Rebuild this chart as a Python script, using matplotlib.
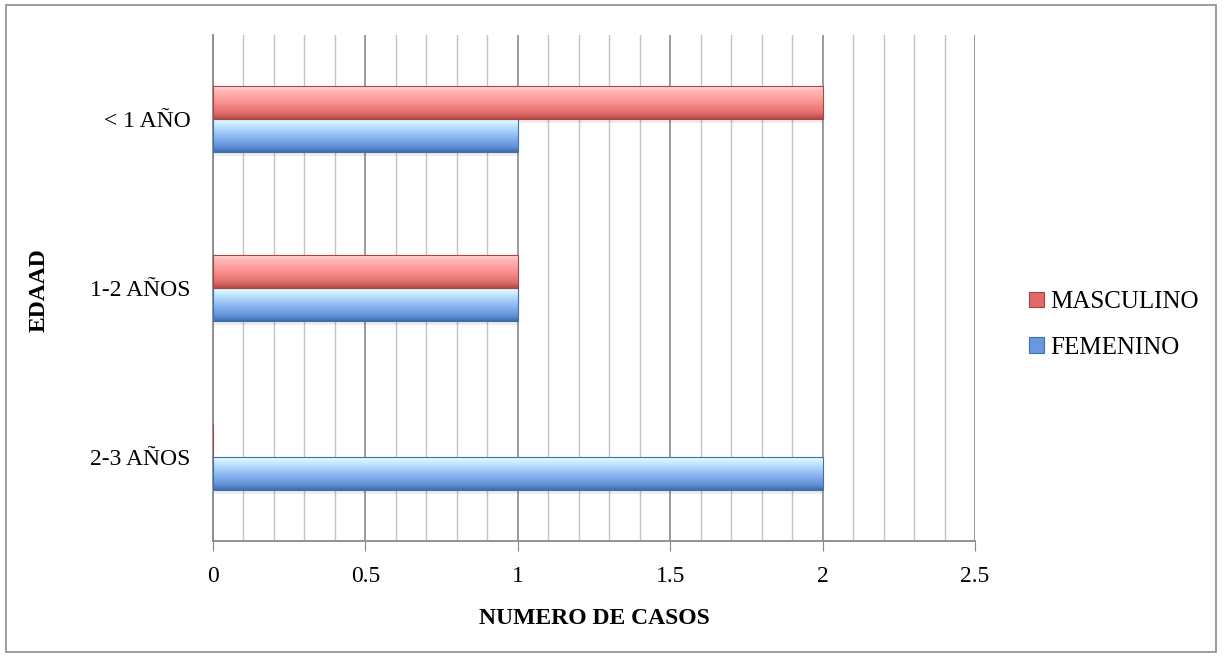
"""Horizontal grouped bars of cases per age group and sex."""

import matplotlib

matplotlib.use("Agg")

import matplotlib.pyplot as plt
import numpy as np
from matplotlib.colors import LinearSegmentedColormap
from matplotlib.patches import Rectangle
from matplotlib.ticker import MultipleLocator

age_groups = ["2-3 AÑOS", "1-2 AÑOS", "< 1 AÑO"]
femenino = [2, 1, 1]
masculino = [0, 1, 2]
x_ticks = [0, 0.5, 1, 1.5, 2, 2.5]
x_tick_labels = ["0", "0.5", "1", "1.5", "2", "2.5"]

SERIF = ["Liberation Serif", "DejaVu Serif"]
plt.rcParams["font.family"] = SERIF

# top-to-bottom shading of each series, light highlight to darker base
red_shade = LinearSegmentedColormap.from_list(
    "red_shade",
    [(0.0, "#ffe4e4"), (0.15, "#ffb8b8"), (0.5, "#fb9292"), (0.85, "#dc6b68"), (1.0, "#b44a47")],
)
blue_shade = LinearSegmentedColormap.from_list(
    "blue_shade",
    [(0.0, "#f2ffff"), (0.15, "#ccf0ff"), (0.5, "#94bef5"), (0.85, "#6190d6"), (1.0, "#406fae")],
)


def shaded_barh(ax, y, widths, height, cmap, edge):
    """Draw bars and fill each one with a vertical gradient."""
    bars = ax.barh(y, widths, height=height, color="none", edgecolor=edge, linewidth=0.8, zorder=3)
    gradient = np.linspace(1, 0, 64).reshape(-1, 1)
    for bar in bars:
        w = bar.get_width()
        if w <= 0:
            continue
        y0 = bar.get_y()
        h = bar.get_height()
        # soft shadow under the bar
        ax.add_patch(
            Rectangle((0, y0 - h * 0.12), w, h * 0.12, facecolor="#000000", alpha=0.07,
                      edgecolor="none", zorder=2)
        )
        img = ax.imshow(
            gradient,
            cmap=cmap,
            vmin=0,
            vmax=1,
            aspect="auto",
            extent=(0, w, y0, y0 + h),
            origin="lower",
            zorder=2.5,
        )
        img.set_clip_path(bar)
    return bars


fig = plt.figure(figsize=(12.22, 6.57), dpi=100)
fig.patches.append(
    Rectangle((0.005, 0.008), 0.99, 0.985, transform=fig.transFigure, fill=False,
              edgecolor="#8c8c8c", linewidth=1.2)
)
ax = fig.add_axes([0.1743, 0.1766, 0.6236, 0.770])

y = np.arange(len(age_groups))
bar_h = 0.196
fem_bars = shaded_barh(ax, y - bar_h / 2, femenino, bar_h, blue_shade, "#3f6fae")
masc_bars = shaded_barh(ax, y + bar_h / 2, masculino, bar_h, red_shade, "#a84441")

ax.set_xlim(0, 2.5)
ax.set_ylim(-0.5, 2.5)
ax.set_xticks(x_ticks)
ax.set_xticklabels(x_tick_labels, fontsize=17)
ax.xaxis.set_minor_locator(MultipleLocator(0.1))
ax.set_yticks(y)
ax.set_yticklabels(age_groups, fontsize=17)
ax.tick_params(axis="y", length=0, pad=16)
ax.tick_params(axis="x", which="major", length=7, color="#888888", pad=11)
ax.tick_params(axis="x", which="minor", length=0)

ax.grid(axis="x", which="minor", color="#c4c4c4", linewidth=1.0, zorder=0)
ax.grid(axis="x", which="major", color="#8a8a8a", linewidth=1.2, zorder=0)
ax.set_axisbelow(True)

for side in ("top", "right"):
    ax.spines[side].set_visible(False)
ax.spines["left"].set_color("#8a8a8a")
ax.spines["left"].set_linewidth(1.3)
ax.spines["bottom"].set_color("#8a8a8a")
ax.spines["bottom"].set_linewidth(1.3)

ax.set_xlabel("NUMERO DE CASOS", fontsize=17, fontweight="bold", labelpad=15)
fig.text(0.032, 0.558, "EDAAD", rotation=90, fontsize=17, fontweight="bold",
         ha="center", va="center")

legend = fig.legend(
    [masc_bars, fem_bars],
    ["MASCULINO", "FEMENINO"],
    loc="center left",
    bbox_to_anchor=(0.824, 0.505),
    frameon=False,
    fontsize=18,
    handlelength=0.6,
    handleheight=0.6,
    handletextpad=0.25,
    labelspacing=0.95,
)
for handle, face, edge in zip(legend.legend_handles, ["#e06a68", "#6a98dc"], ["#a84441", "#3f6fae"]):
    handle.set_facecolor(face)
    handle.set_edgecolor(edge)

fig.savefig("out.png", dpi=100)
